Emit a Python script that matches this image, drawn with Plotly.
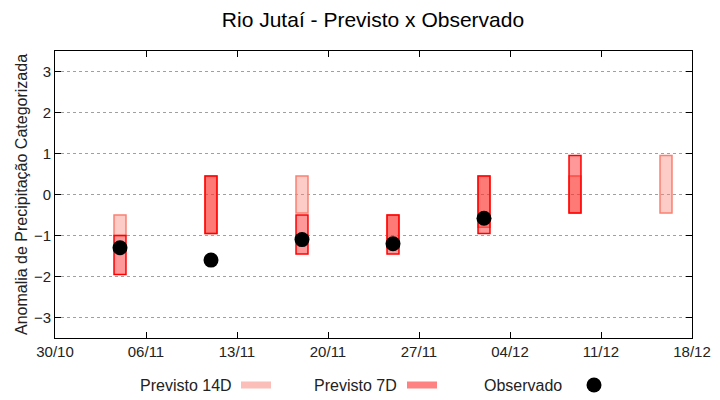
import plotly.graph_objects as go

# ---- data ----
dates_14d = ["2023-11-04", "2023-11-11", "2023-11-18", "2023-11-25", "2023-12-02", "2023-12-09", "2023-12-16"]
low_14d = [-1.0, -0.95, -0.45, -1.3, -0.8, -0.45, -0.45]
high_14d = [-0.5, 0.45, 0.45, -0.5, 0.45, 0.45, 0.95]

dates_7d = ["2023-11-04", "2023-11-11", "2023-11-18", "2023-11-25", "2023-12-02", "2023-12-09"]
low_7d = [-1.95, -0.95, -1.45, -1.45, -0.95, -0.45]
high_7d = [-1.0, 0.45, -0.5, -0.5, 0.45, 0.95]

dates_obs = ["2023-11-04", "2023-11-11", "2023-11-18", "2023-11-25", "2023-12-02"]
obs = [-1.3, -1.6, -1.1, -1.2, -0.58]

x_tick0 = "2023-10-30"
x_end = "2023-12-18"

DAY = 86400000
FONT = "Liberation Sans, Arial, sans-serif"
OFF = 8  # page body margin
W, H = 720 - OFF, 400 - OFF
PL, PR, PT, PB = 55, 692, 50.5, 338.5   # plot area in window pixels
LEG_Y = (PB - 386) / (PB - PT)


def px_x(x):
    return (x - PL) / (PR - PL)


fig = go.Figure()

fig.add_trace(go.Bar(
    x=dates_14d, y=[h - l for h, l in zip(high_14d, low_14d)], base=low_14d,
    width=0.92 * DAY, marker=dict(color="rgba(250,128,114,0.4)", line=dict(color="rgb(250,128,114)", width=1.5)),
    showlegend=False, name="Previsto 14D"))
fig.add_trace(go.Bar(
    x=dates_7d, y=[h - l for h, l in zip(high_7d, low_7d)], base=low_7d,
    width=0.92 * DAY, marker=dict(color="rgba(255,0,0,0.4)", line=dict(color="rgb(255,0,0)", width=1.5)),
    showlegend=False, name="Previsto 7D"))
fig.add_trace(go.Scatter(
    x=dates_obs, y=obs, mode="markers", marker=dict(color="black", size=15),
    showlegend=False, name="Observado"))

# legend proxies (text placed left of swatch like the original)
fig.add_trace(go.Scatter(x=[None], y=[None], mode="lines", name=" ",
                         line=dict(color="rgb(252,190,184)", width=7), legend="legend"))
fig.add_trace(go.Scatter(x=[None], y=[None], mode="lines", name=" ",
                         line=dict(color="rgb(255,130,130)", width=7), legend="legend2"))
fig.add_trace(go.Scatter(x=[None], y=[None], mode="markers", name=" ",
                         marker=dict(color="black", size=15), legend="legend3"))

leg_common = dict(orientation="h", yanchor="middle", y=LEG_Y, xanchor="left",
                  bgcolor="rgba(0,0,0,0)", font=dict(family=FONT, size=14), itemwidth=30)

fig.update_layout(
    width=W, height=H,
    margin=dict(l=PL - OFF, r=720 - PR, t=PT - OFF, b=400 - PB, autoexpand=False),
    paper_bgcolor="white", plot_bgcolor="white",
    barmode="overlay",
    font=dict(family=FONT, size=15, color="black"),
    title=dict(text="Rio Jutaí - Previsto x Observado", x=(373 - OFF) / W, xanchor="center",
               y=1 - (20 - OFF) / H, yanchor="middle", font=dict(family=FONT, size=21, color="black")),
    xaxis=dict(type="date", range=[x_tick0, x_end], tick0=x_tick0, dtick=7 * DAY, tickformat="%d/%m",
               showgrid=False, showline=True, linecolor="black", linewidth=1, mirror="ticks",
               ticks="inside", ticklen=6, tickcolor="black", zeroline=False, automargin=False,
               tickfont=dict(family=FONT, size=15, color="#222")),
    yaxis=dict(range=[-3.5, 3.5], tickvals=[-3, -2, -1, 0, 1, 2, 3], showgrid=True,
               gridcolor="#a0a0a0", griddash="dot", gridwidth=1, zeroline=False,
               showline=True, linecolor="black", linewidth=1, mirror="ticks",
               ticks="inside", ticklen=6, tickcolor="black", automargin=False,
               title=dict(text="Anomalia de Precipitação Categorizada", standoff=2,
                          font=dict(family=FONT, size=16, color="#222")),
               tickfont=dict(family=FONT, size=15, color="#222")),
    legend=dict(leg_common, x=px_x(236)),
    legend2=dict(leg_common, x=px_x(402)),
    legend3=dict(leg_common, x=px_x(574)),
    annotations=[
        dict(text="Previsto 14D", xref="paper", yref="paper", x=px_x(234), y=LEG_Y,
             xanchor="right", yanchor="middle", showarrow=False, font=dict(family=FONT, size=16, color="#222")),
        dict(text="Previsto 7D", xref="paper", yref="paper", x=px_x(399), y=LEG_Y,
             xanchor="right", yanchor="middle", showarrow=False, font=dict(family=FONT, size=16, color="#222")),
        dict(text="Observado", xref="paper", yref="paper", x=px_x(564), y=LEG_Y,
             xanchor="right", yanchor="middle", showarrow=False, font=dict(family=FONT, size=16, color="#222")),
    ],
)

fig.write_html("out.html")
